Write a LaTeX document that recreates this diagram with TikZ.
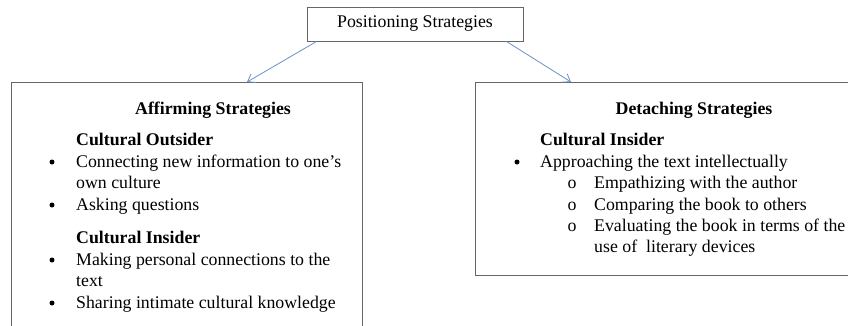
\documentclass[tikz,border=0pt]{standalone}
\usepackage{fontspec}
\setmainfont{Liberation Serif}
\usetikzlibrary{arrows.meta,calc}
\definecolor{arrowblue}{RGB}{110,145,200}
\begin{document}
\begin{tikzpicture}[x=1pt,y=-1pt,
  txt/.style={anchor=west, inner sep=0pt, font=\fontsize{17.8}{21}\selectfont, text height=12pt, text depth=4pt},
  hd/.style={txt, font=\fontsize{17.8}{21}\selectfont\bfseries},
  ctr/.style={txt, anchor=center},
  dot/.style={circle, fill=black, inner sep=0pt, minimum size=5pt},
  frame/.style={draw=black!60, line width=0.9pt, inner sep=0pt},
  arr/.style={draw=arrowblue, line width=0.8pt, -{Straight Barb[length=7pt,width=10pt]}}]
\clip (0,0) rectangle (848,325);
\fill[white] (0,0) rectangle (848,325);
% boxes
\node[frame, minimum width=216pt, minimum height=34pt, font=\fontsize{17.8}{21}\selectfont] (top) at (415,24) {Positioning Strategies};
\node[frame, minimum width=351pt, minimum height=270pt, anchor=north west] (left) at (11,82) {};
\node[frame, minimum width=390pt, minimum height=193pt, anchor=north west] (right) at (475,82) {};
% arrows
\coordinate (la) at ($(top.south west)+(10,0)$);
\coordinate (lb) at ($(left.north west)+(236,0)$);
\coordinate (ra) at ($(top.south east)+(-17,0)$);
\coordinate (rb) at ($(right.north west)+(96,0)$);
\draw[arr] (la) -- (lb);
\draw[arr] (ra) -- (rb);
% left box text
\node[hd, anchor=center] (lt) at (213,110) {Affirming Strategies};
\node[hd] (lo) at (76,141) {Cultural Outsider};
\node[dot] (b1) at (52,162) {};
\node[txt] (l1) at (76,163) {Connecting new information to one’s};
\node[txt] (l2) at (76,184) {own culture};
\node[dot] (b2) at (52,205) {};
\node[txt] (l3) at (76,206) {Asking questions};
\node[hd] (li) at (76,239) {Cultural Insider};
\node[dot] (b3) at (52,260) {};
\node[txt] (l4) at (76,261) {Making personal connections to the};
\node[txt] (l5) at (76,282) {text};
\node[dot] (b4) at (52,303) {};
\node[txt] (l6) at (76,304) {Sharing intimate cultural knowledge};
% right box text
\node[hd, anchor=center] (rt) at (694,110) {Detaching Strategies};
\node[hd] (ri) at (540,141) {Cultural Insider};
\node[dot] (c1) at (517,162) {};
\node[txt] (r1) at (540,163) {Approaching the text intellectually};
\node[ctr] (o1) at (572,184) {o};
\node[txt] (r2) at (594,184) {Empathizing with the author};
\node[ctr] (o2) at (572,206) {o};
\node[txt] (r3) at (594,206) {Comparing the book to others};
\node[ctr] (o3) at (572,227) {o};
\node[txt] (r4) at (594,227) {Evaluating the book in terms of the};
\node[txt] (r5) at (594,248) {use of\ \ literary devices};
\end{tikzpicture}
\end{document}
